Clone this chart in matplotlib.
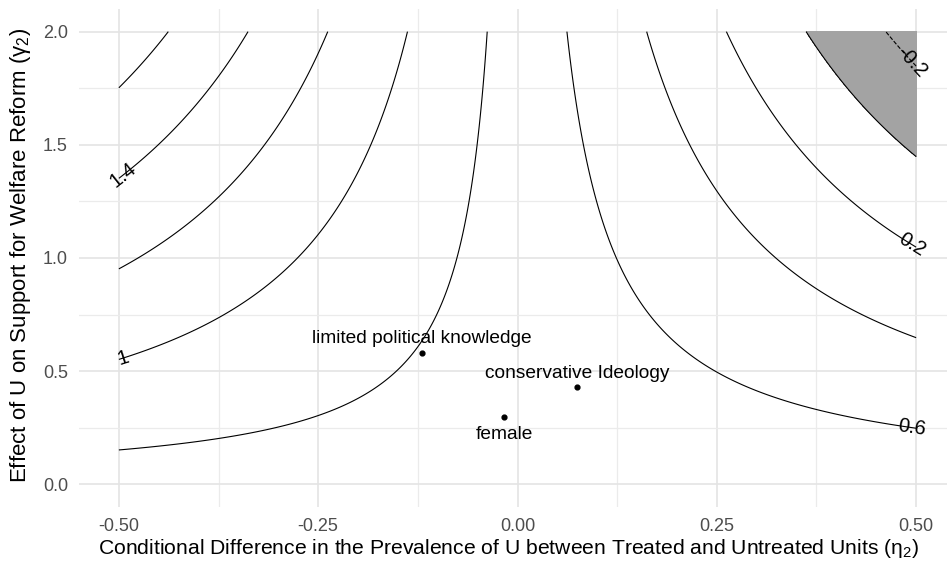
import numpy as np
import matplotlib
matplotlib.use("Agg")
import matplotlib.pyplot as plt
from matplotlib.ticker import MultipleLocator

plt.rcParams['font.family'] = ['Liberation Sans', 'DejaVu Sans']
plt.rcParams['mathtext.default'] = 'regular'

# estimate of the treatment effect and the sensitivity grid
tau = 0.724
eta_range = [-0.5, 0.5]
gamma_range = [0.0, 2.0]
levels = [-0.2, 0.0, 0.2, 0.4, 0.6, 0.8, 1.0, 1.2, 1.4, 1.6]
label_levels = [-0.2, 0.2, 0.6, 1.0, 1.4]

# covariate benchmarks
cov_names = ['limited political knowledge', 'female', 'conservative Ideology']
cov_eta = [-0.120, -0.017, 0.075]
cov_gamma = [0.582, 0.296, 0.428]
cov_label_side = ['above', 'below', 'above']

x_ticks = [-0.50, -0.25, 0.00, 0.25, 0.50]
y_ticks = [0.0, 0.5, 1.0, 1.5, 2.0]

eta = np.linspace(eta_range[0], eta_range[1], 501)
gamma = np.linspace(gamma_range[0], gamma_range[1], 501)
E, G = np.meshgrid(eta, gamma)
Z = tau - E * G

fig = plt.figure(figsize=(9.47, 5.66), dpi=100)
ax = fig.add_axes([79 / 947, 59 / 566, 877 / 947, 498 / 566])

# shaded region where the adjusted estimate drops below zero
ax.contourf(E, G, Z, levels=[Z.min() - 1, 0], colors=['#a3a3a3'], zorder=1)
cs = ax.contour(E, G, Z, levels=levels, colors='black', linewidths=0.8, zorder=2)

# labels sit at the end of each labelled contour on the vertical edge
manual = []
for lv in label_levels:
    e_end = 0.495 if lv < tau else -0.495
    manual.append((e_end, (tau - lv) / e_end))
cs_lab = ax.contour(E, G, Z, levels=label_levels, colors='none')
ax.clabel(cs_lab, levels=label_levels, manual=manual, inline=False, fontsize=14.5,
          colors='black', fmt=lambda v: f"{v:g}")

ax.scatter(cov_eta, cov_gamma, s=12, color='black', zorder=4)
for name, x, y, side in zip(cov_names, cov_eta, cov_gamma, cov_label_side):
    off = 10 if side == 'above' else -12
    ax.annotate(name, (x, y), xytext=(0, off), textcoords='offset points',
                ha='center', va='center', fontsize=13.8, zorder=5)

ax.set_xlim(-0.55, 0.55)
ax.set_ylim(-0.1, 2.1)
ax.set_xticks(x_ticks)
ax.set_xticklabels([f"{v:.2f}" for v in x_ticks])
ax.set_yticks(y_ticks)
ax.set_yticklabels([f"{v:.1f}" for v in y_ticks])
ax.xaxis.set_minor_locator(MultipleLocator(0.125))
ax.yaxis.set_minor_locator(MultipleLocator(0.25))
ax.tick_params(which='both', length=0, labelsize=13, labelcolor='#4d4d4d')
ax.tick_params(axis='x', pad=8)
ax.tick_params(axis='y', pad=8)
ax.grid(which='major', color='#e4e4e4', linewidth=1.2, zorder=0)
ax.grid(which='minor', color='#ebebeb', linewidth=0.9, zorder=0)
ax.set_axisbelow(True)
for s in ax.spines.values():
    s.set_visible(False)

ax.set_xlabel(r'Conditional Difference in the Prevalence of U between Treated and Untreated Units ($\eta_2$)',
              fontsize=15.2)
ax.set_ylabel(r'Effect of U on Support for Welfare Reform ($\gamma_2$)', fontsize=16)
ax.xaxis.set_label_coords(0.4895, -0.060)
ax.yaxis.set_label_coords(-0.052, 0.506)

fig.savefig('out.png', dpi=100)
